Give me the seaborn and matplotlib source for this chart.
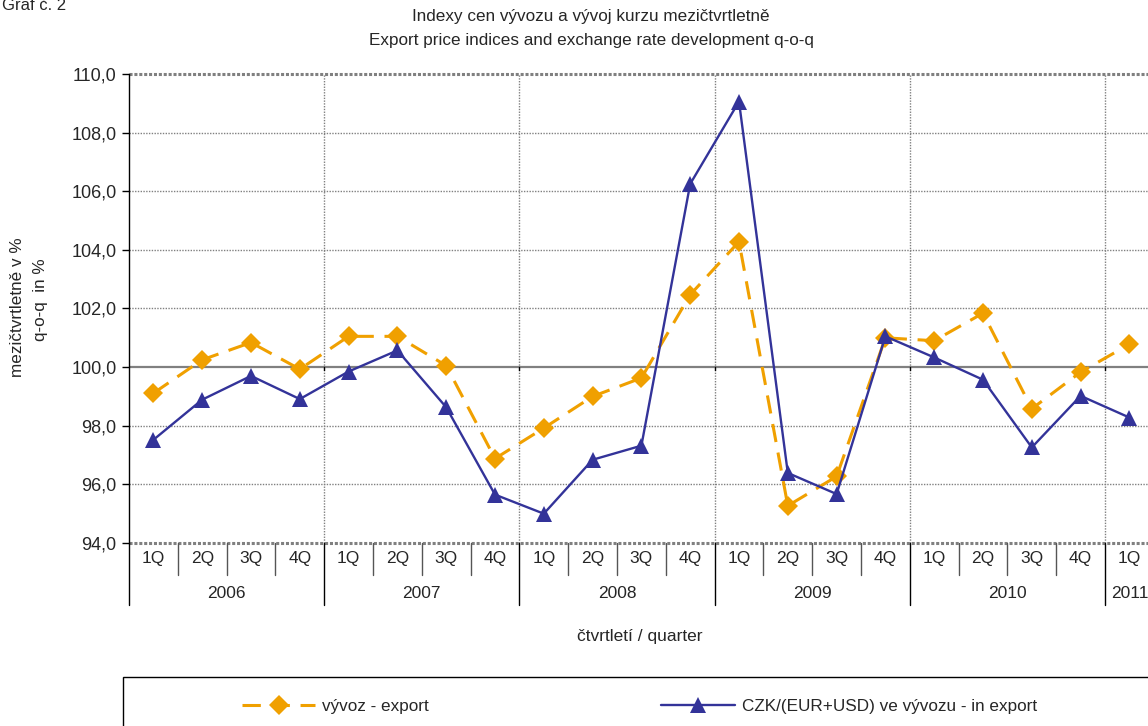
import pandas as pd
import matplotlib.pyplot as plt
import seaborn as sns
from matplotlib.ticker import FuncFormatter, MultipleLocator
from matplotlib.transforms import blended_transform_factory
from matplotlib.patches import Rectangle
from matplotlib.lines import Line2D

# quarters 2006 1Q .. 2011 1Q
quarters = ['1Q', '2Q', '3Q', '4Q'] * 5 + ['1Q']
years = ['2006', '2007', '2008', '2009', '2010', '2011']
quarters_per_year = [4, 4, 4, 4, 4, 1]

# export price index, q-o-q (%)
export_idx = [99.11, 100.25, 100.84, 99.93, 101.05, 101.05, 100.05, 96.88,
              97.92, 99.00, 99.63, 102.47, 104.28, 95.27, 96.27, 101.00,
              100.90, 101.84, 98.58, 99.83, 100.78]
# CZK/(EUR+USD) in export, q-o-q (%)
czk_idx = [97.52, 98.89, 99.70, 98.91, 99.85, 100.57, 98.63, 95.65,
           95.00, 96.84, 97.32, 106.25, 109.06, 96.39, 95.67, 101.05,
           100.33, 99.57, 97.26, 99.02, 98.28]

ORANGE = '#F0A000'
BLUE = '#333399'

sns.set_style('white')
plt.rcParams['font.family'] = ['Liberation Sans', 'DejaVu Sans']

W, H = 1148, 726
fig = plt.figure(figsize=(W / 100, H / 100), dpi=100)
ax = fig.add_axes([129 / W, 1 - 543 / H, 21 * 48.8 / W, 469 / H])

df = pd.DataFrame({'pos': range(len(quarters)), 'export': export_idx, 'czk': czk_idx})

sns.lineplot(data=df, x='pos', y='export', ax=ax, color=ORANGE, lw=2.2,
             marker='D', markersize=10, markeredgewidth=0, zorder=4)
ax.lines[-1].set_dashes([6, 3.5])
sns.lineplot(data=df, x='pos', y='czk', ax=ax, color=BLUE, lw=1.7,
             marker='^', markersize=11, markeredgewidth=0, zorder=5)

ax.set_xlim(-0.5, len(quarters) - 0.5)
ax.set_ylim(94, 110)
ax.yaxis.set_major_locator(MultipleLocator(2))
ax.yaxis.set_major_formatter(FuncFormatter(lambda v, p: f'{v:.1f}'.replace('.', ',')))
ax.tick_params(axis='y', which='major', left=True, length=5, width=1, color='black',
               labelsize=13, pad=4)
ax.set_xticks([])
ax.set_xlabel('')
ax.set_ylabel('')

for s in ['top', 'right', 'bottom']:
    ax.spines[s].set_visible(False)
ax.spines['left'].set_color('black')
ax.spines['left'].set_linewidth(1)

# grid
for v in range(94, 111, 2):
    if v == 100:
        ax.axhline(v, color='#808080', lw=1.6, zorder=2)
    elif v in (94, 110):
        ax.axhline(v, color='#808080', lw=2.2, ls=(0, (1, 0.6)), zorder=2, clip_on=False)
    else:
        ax.axhline(v, color='#808080', lw=1, ls=(0, (1, 1)), zorder=1)

bounds = []
start = 0
for n in quarters_per_year:
    start += n
    bounds.append(start - 0.5)
for b in bounds[:-1]:
    ax.axvline(b, color='#808080', lw=1, ls=(0, (1, 1)), zorder=1)
    ax.plot([b, b], [100, 99.9], color='black', lw=1, zorder=3)

# category table below the axis
tr = blended_transform_factory(ax.transData, ax.transAxes)
q_row = -16 / 469
y_row = -50 / 469
for i, q in enumerate(quarters):
    ax.text(i, q_row, q, transform=tr, ha='center', va='center', fontsize=12.5)
year_edges = [-0.5] + bounds
for i in range(len(quarters) - 1):
    if i + 0.5 not in year_edges:
        ax.plot([i + 0.5, i + 0.5], [0, -32 / 469], transform=tr, color='#555555',
                lw=1, clip_on=False)
for b in year_edges[:-1]:
    ax.plot([b, b], [0, -62 / 469], transform=tr, color='black', lw=1, clip_on=False)
for k, yr in enumerate(years):
    ax.text((year_edges[k] + year_edges[k + 1]) / 2, y_row, yr, transform=tr,
            ha='center', va='center', fontsize=12.5)

# texts
fig.text(591 / W, 1 - 17 / H, 'Indexy cen vývozu a vývoj kurzu mezičtvrtletně',
         ha='center', va='center', fontsize=12.3)
fig.text(591 / W, 1 - 40 / H, 'Export price indices and exchange rate development q-o-q',
         ha='center', va='center', fontsize=12.3)
fig.text(2 / W, 1 - 10 / H, 'Graf č. 2', ha='left', va='baseline', fontsize=12)
fig.text(640 / W, 1 - 637 / H, 'čtvrtletí / quarter', ha='center', va='center', fontsize=12.5)
fig.text(18 / W, 1 - 307 / H, 'mezičtvrtletně v %', rotation=90, ha='center',
         va='center', fontsize=12.3)
fig.text(40 / W, 1 - 300 / H, 'q-o-q  in %', rotation=90, ha='center',
         va='center', fontsize=12.3)

# legend box
fig.patches.append(Rectangle((123 / W, -0.1), 1.2, (1 - 677 / H) + 0.1,
                             transform=fig.transFigure, fill=False,
                             edgecolor='black', lw=1))
handles = [Line2D([], [], color=ORANGE, lw=2.2, dashes=[6, 3.5], marker='D',
                  markersize=10, markeredgewidth=0),
           Line2D([], [], color=BLUE, lw=1.7, marker='^', markersize=11,
                  markeredgewidth=0)]
fig.legend(handles, ['vývoz - export', 'CZK/(EUR+USD) ve vývozu - in export'],
           loc='center left', bbox_to_anchor=(242 / W, 1 - 706 / H), ncol=2,
           frameon=False, fontsize=12.3, handlelength=4.3, handletextpad=0.4,
           columnspacing=13.6, borderpad=0, borderaxespad=0)

plt.savefig('out.png', dpi=100)
